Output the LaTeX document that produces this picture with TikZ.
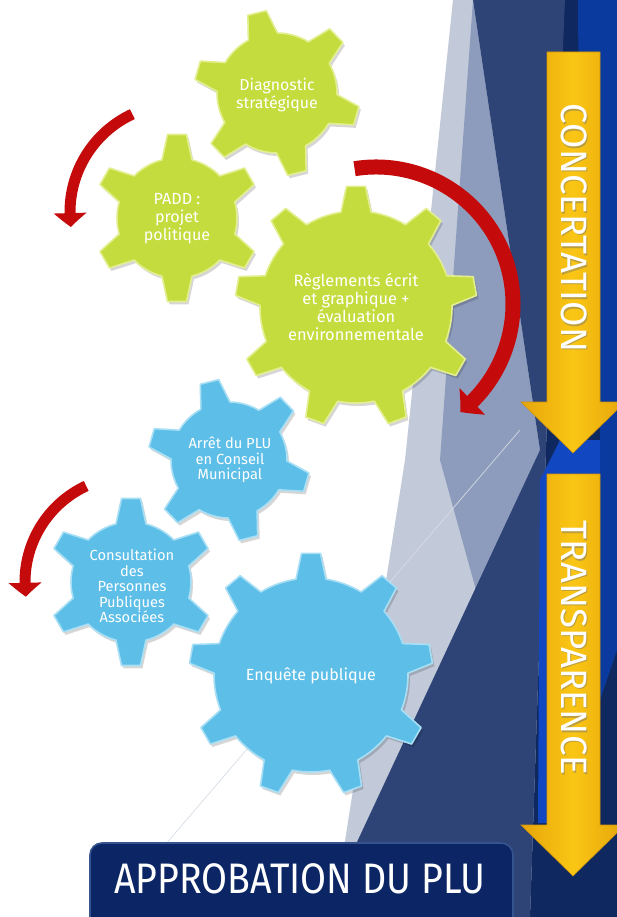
\documentclass[tikz,border=0pt]{standalone}
\usepackage{fontspec}
\usepackage{graphicx}
\setmainfont{Fira Sans}
\usetikzlibrary{arrows.meta,bending}
\definecolor{gfill}{HTML}{C5DC3E}
\definecolor{gedge}{HTML}{E3EE8E}
\definecolor{bfill}{HTML}{5DBEE7}
\definecolor{bedge}{HTML}{A8DFF5}
\definecolor{redarr}{HTML}{C40A0A}
\definecolor{yel}{HTML}{FAC614}
\definecolor{yeldark}{HTML}{E6A50A}
\definecolor{bannerblue}{HTML}{0C2565}
\definecolor{banneredge}{HTML}{34538F}
\definecolor{facetL}{HTML}{C2CAD9}
\definecolor{facetM}{HTML}{8D9CBC}
\definecolor{facetD}{HTML}{2F4476}
\definecolor{navy}{HTML}{102860}
\definecolor{brightblue}{HTML}{0A3A9E}
\definecolor{stripblue}{HTML}{1147C0}
\definecolor{faintline}{HTML}{D7DCE5}

\newcommand\gearshape[7]{% #1 style, #2 cx, #3 cy, #4 teeth, #5 body radius, #6 tip radius, #7 rotation
  \pgfmathsetmacro\gbb{asin(15/#5)}%
  \pgfmathsetmacro\gbt{asin(9.5/#6)}%
  \pgfmathsetmacro\gstep{360/#4}%
  \path[#1,shift={(#2,#3)}] ({#7+\gbb}:#5)
    \foreach \gi in {1,...,#4}{
      arc[start angle={#7+(\gi-1)*\gstep+\gbb}, end angle={#7+\gi*\gstep-\gbb}, radius=#5]
      -- ({#7+\gi*\gstep-\gbt}:#6) -- ({#7+\gi*\gstep+\gbt}:#6) -- ({#7+\gi*\gstep+\gbb}:#5)
    } -- cycle;
}

\tikzset{
  greengear/.style={fill=gfill, draw=gedge, line width=1.2pt, line join=round},
  bluegear/.style={fill=bfill, draw=bedge, line width=1.2pt, line join=round},
  gearshadow/.style={fill=black, opacity=0.16},
  gtext/.style={text=white, align=center, inner sep=0pt},
  redarc/.style={draw=redarr, line cap=butt},
  yarrow/.style={left color=yeldark, right color=yeldark, middle color=yel, draw=yeldark!90!black, line width=0.4pt},
  captext/.style={text=white, font=\fontsize{27.5}{27.5}\selectfont, rotate=-90, inner sep=0pt},
  capshadow/.style={text=black!55, opacity=0.45, font=\fontsize{27.5}{27.5}\selectfont, rotate=-90, inner sep=0pt},
  bannerbox/.style={fill=bannerblue, draw=banneredge, line width=1.2pt, rounded corners=9pt},
  bannertext/.style={text=white, font=\fontsize{32}{32}\selectfont, inner sep=0pt}
}

\begin{document}
\begin{tikzpicture}[x=0.75pt,y=-0.75pt]
\useasboundingbox (0,0) rectangle (617,917);
\clip (0,0) rectangle (617,917);

% background facets
\fill[white] (0,0) rectangle (617,917);
\fill[facetL] (453,0) -- (617,0) -- (617,917) -- (333,917) -- (405,460) -- cycle;
\fill[facetM] (473,0) -- (540,450) -- (476,590) -- (440,460) -- cycle;
\draw[faintline, line width=0.5pt] (520,430) -- (165,845);
\fill[navy] (563,0) -- (617,0) -- (617,917) -- (530,917) -- (547,420) -- cycle;
\fill[facetD] (473,0) -- (565,0) -- (547,420) -- (530,917) -- (322,917) -- (540,450) -- cycle;
\fill[brightblue] (578,0) -- (617,0) -- (617,650) -- (600,700) -- (600,430) -- (580,300) -- cycle;
\fill[stripblue] (560,440) -- (600,440) -- (600,475) -- (547,475) -- (547,823) -- (538,823) -- (540,480) -- cycle;

% gear shadows
\gearshape{gearshadow}{279}{96}{6}{60}{83}{-104}
\gearshape{gearshadow}{179}{221}{6}{60}{84}{-90}
\gearshape{gearshadow}{358}{310}{9}{96}{121}{-90}
\gearshape{gearshadow}{231}{463}{6}{58}{81}{-104}
\gearshape{gearshadow}{133}{585}{6}{60}{84}{-90}
\gearshape{gearshadow}{313}{678}{9}{97}{122}{-90}

% gears
\gearshape{greengear}{277}{93}{6}{60}{83}{-104}
\gearshape{greengear}{177}{218}{6}{60}{84}{-90}
\gearshape{greengear}{356}{307}{9}{96}{121}{-90}
\gearshape{bluegear}{229}{460}{6}{58}{81}{-104}
\gearshape{bluegear}{131}{582}{6}{60}{84}{-90}
\gearshape{bluegear}{311}{675}{9}{97}{122}{-90}

% gear texts
\node[gtext, font=\fontsize{11.9}{12.9}\selectfont] (diag) at (277,95) {Diagnostic\\stratégique};
\node[gtext, font=\fontsize{12.1}{13.6}\selectfont] (padd) at (177,219) {PADD :\\projet\\politique};
\node[gtext, font=\fontsize{12.3}{13.6}\selectfont] (regl) at (356,307) {Règlements écrit\\et graphique +\\évaluation\\environnementale};
\node[gtext, font=\fontsize{11}{11.7}\selectfont] (arret) at (230,460) {Arrêt du PLU\\en Conseil\\Municipal};
\node[gtext, font=\fontsize{11}{11.7}\selectfont] (consult) at (132,586) {Consultation\\des\\Personnes\\Publiques\\Associées};
\node[gtext, font=\fontsize{12.1}{13}\selectfont] (enq) at (311,676) {Enquête publique};

% red circular arrows
\draw[redarc, line width=8.25pt, -{Triangle[width=24pt,length=10.5pt,bend]}]
  ([shift={(178,212)}]-115:108) arc[start angle=-115, end angle=-188, radius=108];
\draw[redarc, line width=11.25pt, -{Triangle[width=27pt,length=12pt,bend]}]
  ([shift={(376,304)}]-99:137) arc[start angle=-99, end angle=52, radius=137];
\draw[redarc, line width=8.25pt, -{Triangle[width=24pt,length=10.5pt,bend]}]
  ([shift={(131,582)}]-115:106) arc[start angle=-115, end angle=-188, radius=106];

% yellow arrows
\path[yarrow] (547,52) -- (600,52) -- (600,402) -- (625,402) -- (573,453) -- (521,402) -- (547,402) -- cycle;
\path[yarrow] (547,474) -- (600,474) -- (600,825) -- (625,825) -- (573,876) -- (521,825) -- (547,825) -- cycle;
\node[capshadow] (concsh) at (575.5,229.5) {CONCERTATION};
\node[captext] (conc) at (574,228) {CONCERTATION};
\node[capshadow] (transsh) at (575.5,649.5) {TRANSPARENCE};
\node[captext] (trans) at (574,648) {TRANSPARENCE};

% banner
\path[bannerbox] (90,843) rectangle (513,940);
\node[bannertext] (appro) at (300,879) {\scalebox{0.88}[1]{APPROBATION DU PLU}};
\end{tikzpicture}
\end{document}
